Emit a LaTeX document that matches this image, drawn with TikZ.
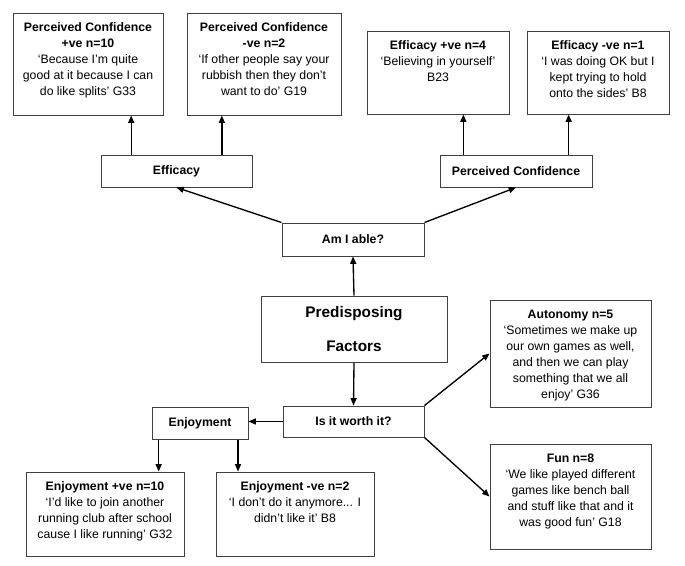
\documentclass[tikz,border=0pt]{standalone}
\usepackage{fontspec}
\setmainfont{Liberation Sans}
\usetikzlibrary{arrows.meta}

\tikzset{
  qbox/.style={draw=black!75, line width=0.75pt, inner sep=0pt},
  qtext/.style={anchor=north, align=center, inner sep=0pt, yshift=-7.5pt,
    font=\fontsize{9.2}{12}\selectfont},
  hbox/.style={qbox, font=\fontsize{9.2}{12}\selectfont\bfseries}
}

\begin{document}
\begin{tikzpicture}[x=0.75pt, y=-0.75pt]

\useasboundingbox (0,0) rectangle (685,565);

\begin{scope}[every node/.style={qbox}]
	\node[minimum width=112.5pt, minimum height=76.5pt] (pcp) at (88,64) {};
	\node[minimum width=115.5pt, minimum height=76.5pt] (pcn) at (264,64) {};
	\node[minimum width=106.5pt, minimum height=62.25pt] (efp) at (438,72.5) {};
	\node[minimum width=106.5pt, minimum height=62.25pt] (efn) at (598,72.5) {};
	\node[minimum width=120.75pt, minimum height=80.25pt] (aut) at (570.5,353.5) {};
	\node[minimum width=120.75pt, minimum height=78.75pt] (fun) at (570.5,496.5) {};
	\node[minimum width=118.5pt, minimum height=63pt] (enp) at (105,514) {};
	\node[minimum width=118.5pt, minimum height=63pt] (enn) at (295,514) {};
\end{scope}

\node[qtext] (pcpt) at (pcp.north) {\textbf{Perceived Confidence}\\ \textbf{+ve n=10}\\ ‘Because I’m quite\\ good at it because I can\\ do like splits’ G33};
\node[qtext] (pcnt) at (pcn.north) {\textbf{Perceived Confidence}\\ \textbf{-ve n=2}\\ ‘If other people say your\\ rubbish then they don't\\ want to do’ G19};
\node[qtext] (efpt) at (efp.north) {\textbf{Efficacy +ve n=4}\\ ‘Believing in yourself’\\ B23};
\node[qtext] (efnt) at (efn.north) {\textbf{Efficacy -ve n=1}\\ ‘I was doing OK but I\\ kept trying to hold\\ onto the sides’ B8};
\node[qtext] (autt) at (aut.north) {\textbf{Autonomy n=5}\\ ‘Sometimes we make up\\ our own games as well,\\ and then we can play\\ something that we all\\ enjoy’ G36};
\node[qtext] (funt) at (fun.north) {\textbf{Fun n=8}\\ ‘We like played different\\ games like bench ball\\ and stuff like that and it\\ was good fun’ G18};
\node[qtext] (enpt) at (enp.north) {\textbf{Enjoyment +ve n=10}\\ ‘I’d like to join another\\ running club after school\\ cause I like running’ G32};
\node[qtext] (ennt) at (enn.north) {\textbf{Enjoyment -ve n=2}\\ ‘I don’t do it anymore... I\\ didn't like it’ B8};

\node[hbox, minimum width=113.25pt, minimum height=24pt] (eff) at (176.5,171) {Efficacy};
\node[hbox, minimum width=114pt, minimum height=24pt] (pc) at (516,171) {Perceived Confidence};
\node[hbox, minimum width=106.5pt, minimum height=24.75pt] (able) at (353,239.5) {Am I able?};
\node[hbox, minimum width=139.5pt, minimum height=49.5pt, align=center,
	font=\fontsize{11.5}{25}\selectfont\bfseries] (pred) at (354,329) {Predisposing\\ Factors};
\node[hbox, minimum width=105.75pt, minimum height=23.25pt] (worth) at (353.5,421.5) {Is it worth it?};
\node[hbox, minimum width=72pt, minimum height=24pt] (enj) at (200,423) {Enjoyment};

\coordinate (effl) at ([xshift=-34pt]eff.north);
\coordinate (effr) at ([xshift=34pt]eff.north);
\coordinate (pcl) at ([xshift=-39.5pt]pc.north);
\coordinate (pcr) at ([xshift=39.5pt]pc.north);
\coordinate (enjl) at ([xshift=-31pt]enj.south);
\coordinate (enjr) at ([xshift=28.5pt]enj.south);

\begin{scope}[>={Triangle[length=5.5pt,width=4.5pt]}, every edge/.style={draw=black,line width=1pt}]
	\path [->] (effl) edge (effl |- pcp.south);
	\path [->] (effr) edge (effr |- pcn.south);
	\path [->] (pcl) edge (pcl |- efp.south);
	\path [->] (pcr) edge (pcr |- efn.south);
	\path [->] (able.north west) edge (eff.south);
	\path [->] (able.north east) edge (pc.south);
	\path [->] (pred.north) edge (able.south);
	\path [->] (pred.south) edge (worth.north);
	\path [->] (worth.north east) edge (aut.west);
	\path [->] (worth.south east) edge (fun.west);
	\path [->] (worth.west) edge (worth.west -| enj.east);
	\path [->] (enjl) edge (enjl |- enp.north);
	\path [->] (enjr) edge (enjr |- enn.north);
\end{scope}

\end{tikzpicture}
\end{document}
